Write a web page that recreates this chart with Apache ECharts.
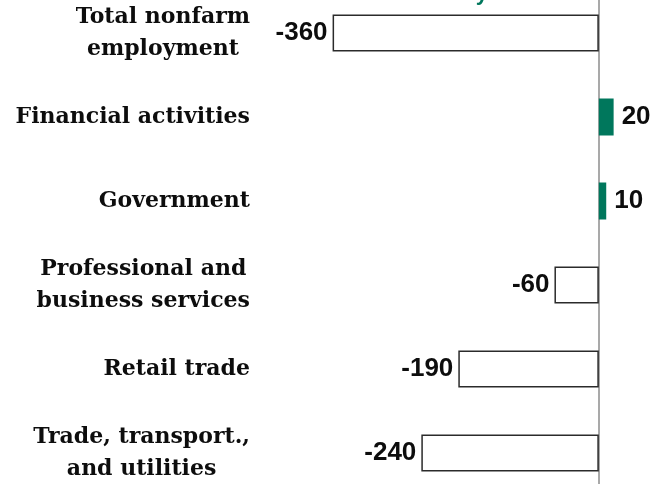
<!DOCTYPE html>
<html>
<head>
<meta charset="utf-8">
<script src="https://cdn.jsdelivr.net/npm/echarts@6/dist/echarts.min.js"></script>
<style>
  html, body { margin: 0; padding: 0; background: #fff; }
  #chart { width: 666px; height: 484px; }
</style>
</head>
<body>
<div id="chart"></div>
<script>
// categories top to bottom
var categories = [
  'Total nonfarm\nemployment',
  'Financial activities',
  'Government',
  'Professional and\nbusiness services',
  'Retail trade',
  'Trade, transport.,\nand utilities'
];
// change, thousands
var values = [-360, 20, 10, -60, -190, -240];

var teal = '#00775c';

var chart = echarts.init(document.getElementById('chart'));
chart.setOption({
  animation: false,
  title: {
    text: 'Industry',
    right: 178,
    top: -17,
    padding: 0,
    textStyle: {
      color: teal,
      fontSize: 22,
      fontWeight: 'bold',
      fontFamily: 'Liberation Sans'
    }
  },
  grid: {
    left: 303,
    right: 8,
    top: -9,
    height: 504,
    outerBoundsMode: 'none',
    containLabel: false
  },
  xAxis: {
    type: 'value',
    min: -400,
    max: 80,
    show: false
  },
  yAxis: {
    type: 'category',
    inverse: true,
    data: categories,
    axisLine: {
      onZero: true,
      lineStyle: { color: '#8c8c8c', width: 1.5 }
    },
    axisTick: { show: false },
    axisLabel: {
      margin: 53,
      formatter: function (v) {
        return v.split('\n').map(function (s) {
          return '{c|' + s + '}';
        }).join('\n');
      },
      rich: {
        c: {
          align: 'center',
          fontFamily: 'DejaVu Serif',
          fontWeight: 'bold',
          fontSize: 22,
          lineHeight: 32,
          color: '#0d0d0d'
        }
      }
    }
  },
  series: [{
    type: 'bar',
    barWidth: 37,
    data: values.map(function (v) {
      var neg = v < 0;
      return {
        value: v,
        itemStyle: neg
          ? { color: '#fff', borderColor: '#2b2b2b', borderWidth: 1.5 }
          : { color: teal },
        label: {
          position: neg ? 'left' : 'right',
          distance: neg ? 5 : 8
        }
      };
    }),
    label: {
      show: true,
      fontFamily: 'Liberation Sans',
      fontWeight: 'bold',
      fontSize: 26,
      color: '#0d0d0d'
    }
  }]
});
</script>
</body>
</html>
